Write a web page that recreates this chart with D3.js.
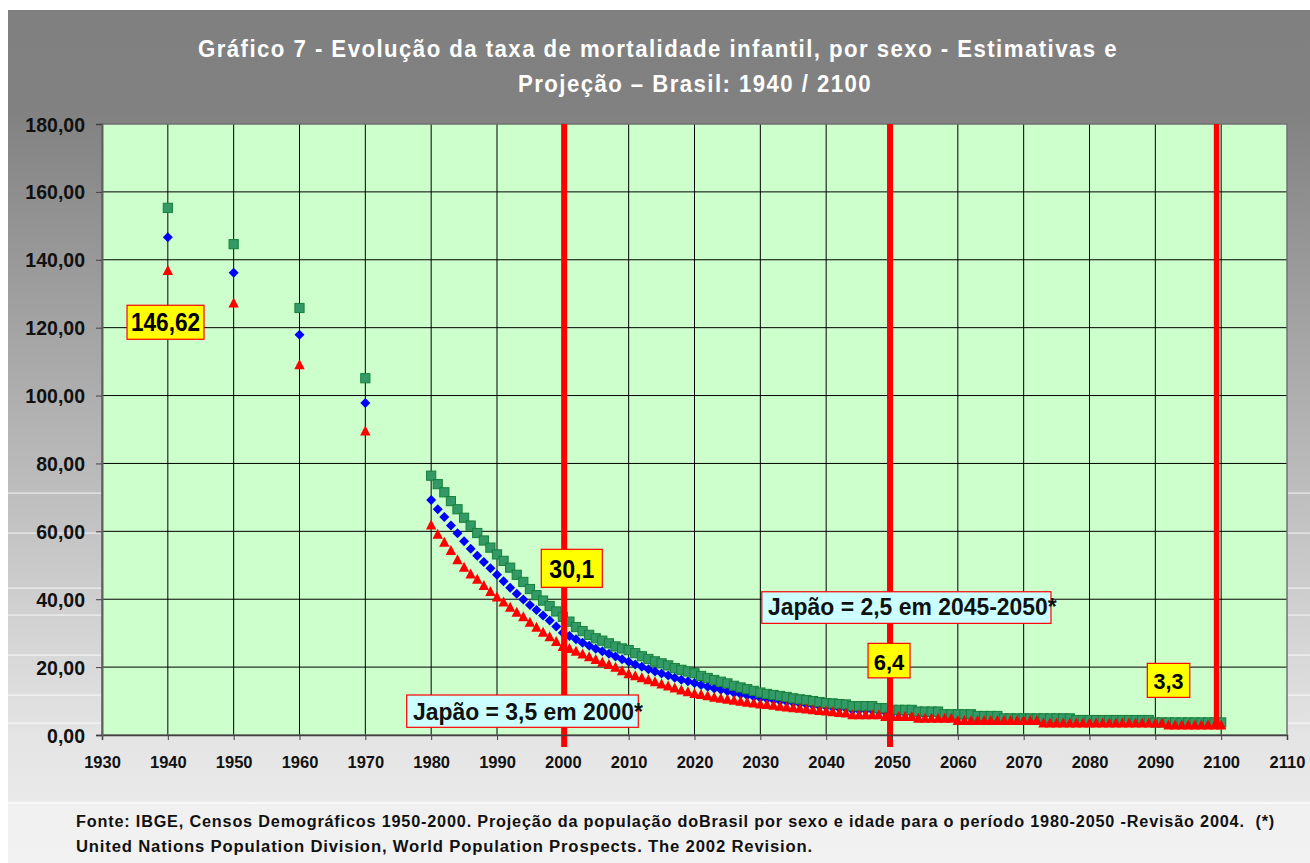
<!DOCTYPE html>
<html>
<head>
<meta charset="utf-8">
<script src="https://cdn.jsdelivr.net/npm/d3@7"></script>
<style>
  body { margin: 0; background: #fff; }
  text { font-family: "Liberation Sans", Arial, sans-serif; font-weight: bold; }
</style>
</head>
<body>
<div id="chart"></div>
<script>
// censos 1940-1970
var anosCenso = [1940, 1950, 1960, 1970];
var censoHomens = [155.3, 144.6, 125.8, 105.1];
var censoTotal = [146.62, 136.2, 117.9, 97.8];
var censoMulheres = [137.0, 127.4, 109.2, 89.7];

// estimativas e projecao anual 1980-2100
var anosProj = d3.range(1980, 2101);
var projHomens = [
  76.4, 73.9, 71.5, 68.9, 66.5, 64.0, 61.7, 59.5, 57.3, 55.2,
  53.2, 51.3, 49.3, 47.2, 45.1, 43.0, 41.2, 39.6, 38.0, 36.4,
  34.8, 33.4, 31.8, 30.6, 29.5, 28.5, 27.8, 27.0, 26.1, 25.5,
  25.0, 24.1, 23.2, 22.4, 21.7, 21.1, 20.5, 19.7, 19.2, 18.7,
  18.2, 17.4, 16.8, 16.2, 15.7, 15.2, 14.5, 14.0, 13.5, 13.0,
  12.5, 12.1, 11.8, 11.5, 11.2, 10.8, 10.5, 10.3, 10.0, 9.7,
  9.4, 9.3, 9.1, 9.0, 8.5, 8.5, 8.5, 8.5, 7.9, 7.9,
  7.4, 7.4, 7.4, 7.4, 6.9, 6.9, 6.9, 6.9, 6.1, 6.1,
  6.1, 6.1, 6.1, 5.6, 5.6, 5.6, 5.6, 4.9, 4.9, 4.9,
  4.9, 4.9, 4.9, 4.9, 4.9, 4.9, 4.9, 4.9, 4.4, 4.4,
  4.4, 4.4, 4.4, 4.4, 4.4, 4.4, 4.4, 4.4, 4.4, 4.4,
  3.7, 3.7, 3.7, 3.7, 3.7, 3.7, 3.7, 3.7, 3.7, 3.7,
  3.7
];
var projTotal = [
  69.2, 66.5, 64.2, 61.7, 59.4, 57.1, 54.9, 52.8, 51.0, 49.1,
  47.2, 45.3, 43.4, 41.6, 39.9, 38.3, 36.8, 35.2, 33.7, 32.0,
  30.1, 29.2, 28.2, 27.2, 26.3, 25.4, 24.7, 23.9, 23.1, 22.3,
  21.6, 20.8, 20.1, 19.4, 18.7, 18.1, 17.5, 16.9, 16.3, 15.8,
  15.3, 14.7, 14.2, 13.7, 13.3, 12.9, 12.4, 12.0, 11.6, 11.3,
  10.9, 10.6, 10.3, 10.0, 9.8, 9.5, 9.2, 9.0, 8.8, 8.5,
  8.3, 8.1, 7.9, 7.8, 7.3, 7.3, 7.3, 7.3, 6.9, 6.7,
  6.4, 6.4, 6.4, 6.4, 6.0, 6.0, 6.0, 6.0, 5.6, 5.6,
  5.3, 5.3, 5.3, 5.0, 5.0, 5.0, 5.0, 4.7, 4.7, 4.7,
  4.7, 4.7, 4.7, 4.3, 4.3, 4.3, 4.3, 4.3, 4.0, 4.0,
  4.0, 4.0, 4.0, 4.0, 4.0, 4.0, 4.0, 4.0, 4.0, 4.0,
  3.7, 3.7, 3.3, 3.3, 3.3, 3.3, 3.3, 3.3, 3.3, 3.3,
  3.3
];
var projMulheres = [
  62.0, 59.3, 56.9, 54.5, 51.8, 49.6, 47.6, 46.0, 44.2, 42.4,
  40.8, 39.3, 37.8, 36.3, 35.0, 33.4, 31.9, 30.4, 29.1, 27.7,
  26.2, 25.6, 24.8, 24.0, 23.2, 22.4, 21.6, 20.9, 20.1, 19.1,
  18.2, 17.6, 17.0, 16.4, 15.8, 15.2, 14.6, 14.0, 13.4, 12.9,
  12.4, 12.1, 11.7, 11.3, 11.0, 10.7, 10.4, 10.1, 9.8, 9.6,
  9.3, 9.1, 8.9, 8.6, 8.4, 8.2, 8.0, 7.8, 7.6, 7.4,
  7.2, 7.0, 6.8, 6.6, 6.1, 6.1, 6.1, 6.1, 6.1, 5.6,
  5.6, 5.6, 5.6, 5.6, 5.1, 5.1, 5.1, 5.1, 5.1, 5.1,
  4.4, 4.4, 4.4, 4.4, 4.4, 4.4, 4.4, 4.4, 4.4, 4.4,
  4.4, 4.4, 4.4, 3.7, 3.7, 3.7, 3.7, 3.7, 3.7, 3.7,
  3.7, 3.7, 3.7, 3.7, 3.7, 3.7, 3.7, 3.7, 3.7, 3.7,
  3.7, 3.7, 3.1, 3.1, 3.1, 3.1, 3.1, 3.1, 3.1, 3.1,
  3.1
];

var xTicks = d3.range(1930, 2111, 10);
var yTicks = d3.range(0, 181, 20);

// linhas verticais vermelhas (ano, valor inferior)
var linhasRef = [[2000.2, -3.5], [2049.7, -3.5], [2099.3, 2.0]];

var tituloLinhas = [
  "Gráfico 7 - Evolução da taxa de mortalidade infantil, por sexo - Estimativas e",
  "Projeção – Brasil: 1940 / 2100"
];
var fonteLinhas = [
  "Fonte: IBGE, Censos Demográficos 1950-2000. Projeção da população doBrasil por sexo e idade para o período 1980-2050 -Revisão 2004.  (*)",
  "United Nations Population Division, World Population Prospects. The 2002 Revision."
];

var width = 1310,
    height = 863;

var x = d3.scaleLinear().domain([1930, 2110]).range([102, 1287]);
var y = d3.scaleLinear().domain([0, 180]).range([735, 124]);

var svg = d3.select("#chart").append("svg")
    .attr("width", width)
    .attr("height", height);

// fundo cinza em degrade
var grad = svg.append("defs").append("linearGradient")
    .attr("id", "bg")
    .attr("gradientUnits", "userSpaceOnUse")
    .attr("x1", 0).attr("y1", 10).attr("x2", 0).attr("y2", 863);
grad.append("stop").attr("offset", 0).attr("stop-color", "#808080");
grad.append("stop").attr("offset", 0.117).attr("stop-color", "#818181");
grad.append("stop").attr("offset", 0.85).attr("stop-color", "#e4e4e4");
grad.append("stop").attr("offset", 0.926).attr("stop-color", "#e9e9e9");
grad.append("stop").attr("offset", 0.93).attr("stop-color", "#f0f0f0");
grad.append("stop").attr("offset", 1).attr("stop-color", "#f2f2f2");

svg.append("rect")
    .attr("x", 8).attr("y", 10)
    .attr("width", width - 8).attr("height", height - 10)
    .attr("fill", "url(#bg)");

// faixas brancas do degrade
[493, 533, 588, 615, 655, 695, 723, 803].forEach(function(b) {
  svg.append("rect")
    .attr("x", 8).attr("y", b - 0.5)
    .attr("width", width - 8).attr("height", 1.2)
    .attr("fill", "#fff")
    .attr("opacity", b == 803 ? 1 : 0.7);
});

// titulo
var tituloPos = [[198, 57, 920], [518, 92, 354]];
svg.selectAll(".titulo")
  .data(tituloLinhas)
  .enter().append("text")
  .attr("class", "titulo")
  .attr("x", function(d, i) { return tituloPos[i][0]; })
  .attr("y", function(d, i) { return tituloPos[i][1]; })
  .attr("textLength", function(d, i) { return tituloPos[i][2]; })
  .attr("lengthAdjust", "spacingAndGlyphs")
  .style("font-size", "23px")
  .style("letter-spacing", "1.5px")
  .style("fill", "#fff")
  .text(function(d) { return d; });

// area do grafico
svg.append("rect")
    .attr("x", x(1930)).attr("y", y(180))
    .attr("width", x(2110) - x(1930)).attr("height", y(0) - y(180))
    .attr("fill", "#ccffcc");

var grid = svg.append("g");
grid.selectAll(".vgrid")
  .data(xTicks.slice(1, -1))
  .enter().append("line")
  .attr("x1", function(d) { return x(d); })
  .attr("x2", function(d) { return x(d); })
  .attr("y1", y(180)).attr("y2", y(0))
  .style("stroke", "#000")
  .style("stroke-width", "1px");
grid.selectAll(".hgrid")
  .data(yTicks.slice(1, -1))
  .enter().append("line")
  .attr("x1", x(1930)).attr("x2", x(2110))
  .attr("y1", function(d) { return y(d); })
  .attr("y2", function(d) { return y(d); })
  .style("stroke", "#000")
  .style("stroke-width", "1px");

svg.append("rect")
    .attr("x", x(1930)).attr("y", y(180))
    .attr("width", x(2110) - x(1930)).attr("height", y(0) - y(180))
    .attr("fill", "none")
    .style("stroke", "#707070")
    .style("stroke-width", "1.5px");

// series
function serie(anos, vals) {
  return anos.map(function(a, i) { return [a, vals[i]]; });
}
var total = serie(anosCenso, censoTotal).concat(serie(anosProj, projTotal));
var homens = serie(anosCenso, censoHomens).concat(serie(anosProj, projHomens));
var mulheres = serie(anosCenso, censoMulheres).concat(serie(anosProj, projMulheres));

function diamante(d) {
  var cx = x(d[0]), cy = y(d[1]), r = 5;
  return "M" + cx + "," + (cy - r) + "L" + (cx + r) + "," + cy +
    "L" + cx + "," + (cy + r) + "L" + (cx - r) + "," + cy + "Z";
}
function triangulo(d) {
  var cx = x(d[0]), cy = y(d[1]), w = 5.2, h = 5;
  return "M" + cx + "," + (cy - h) + "L" + (cx + w) + "," + (cy + h) +
    "L" + (cx - w) + "," + (cy + h) + "Z";
}

svg.append("g").selectAll("path")
  .data(total)
  .enter().append("path")
  .attr("d", diamante)
  .attr("fill", "#0000ff");

svg.append("g").selectAll("rect")
  .data(homens)
  .enter().append("rect")
  .attr("x", function(d) { return x(d[0]) - 4.6; })
  .attr("y", function(d) { return y(d[1]) - 4.6; })
  .attr("width", 9.2).attr("height", 9.2)
  .attr("fill", "#339966")
  .style("stroke", "#16803a")
  .style("stroke-width", "1px");

svg.append("g").selectAll("path")
  .data(mulheres)
  .enter().append("path")
  .attr("d", triangulo)
  .attr("fill", "#ff0000");

// linhas vermelhas
svg.append("g").selectAll("line")
  .data(linhasRef)
  .enter().append("line")
  .attr("x1", function(d) { return x(d[0]); })
  .attr("x2", function(d) { return x(d[0]); })
  .attr("y1", y(180))
  .attr("y2", function(d) { return y(d[1]); })
  .style("stroke", "#ff0000")
  .style("stroke-width", function(d, i) { return i == 2 ? "5.5px" : "6px"; });

// eixos
var xAxis = svg.append("g")
    .attr("transform", "translate(0," + y(0) + ")")
    .call(d3.axisBottom(x).tickValues(xTicks).tickSize(5).tickPadding(16).tickFormat(d3.format("d")));
xAxis.select(".domain").style("stroke", "#404040").style("stroke-width", "1.5px");
xAxis.selectAll(".tick line").style("stroke", "#404040");
xAxis.selectAll("text")
  .style("font-size", "16.5px")
  .style("font-family", "'Liberation Sans', Arial, sans-serif")
  .style("font-weight", "bold")
  .attr("fill", "#111");

var yAxis = svg.append("g")
    .attr("transform", "translate(" + x(1930) + ",0)")
    .call(d3.axisLeft(y).tickValues(yTicks).tickSize(6).tickPadding(11)
      .tickFormat(function(d) { return d3.format(".2f")(d).replace(".", ","); }));
yAxis.select(".domain").style("stroke", "#606060").style("stroke-width", "2px");
yAxis.selectAll(".tick line").style("stroke", "#404040");
yAxis.selectAll("text")
  .style("font-size", "19.5px")
  .style("font-family", "'Liberation Sans', Arial, sans-serif")
  .style("font-weight", "bold")
  .attr("dy", "0.36em")
  .attr("fill", "#111");

// caixas de rotulo
var rotulos = [
  {t: "146,62", a: 1933.8, v: 126.6, w: 77, h: 34, fs: 25, tl: 69, dy: 8.4, fill: "#ffff00"},
  {t: "30,1", a: 1996.73, v: 54.7, w: 61, h: 38, fs: 25.5, tl: 45, dy: 10, fill: "#ffff00"},
  {t: "6,4", a: 2046.36, v: 27.0, w: 42, h: 34.5, fs: 22, tl: 30.6, dy: 9.5, fill: "#ffff00"},
  {t: "3,3", a: 2088.78, v: 21.1, w: 42.5, h: 34, fs: 22, tl: 30, dy: 9, fill: "#ffff00"}
];
var caixas = svg.append("g").selectAll("g")
  .data(rotulos)
  .enter().append("g");
caixas.append("rect")
  .attr("x", function(d) { return x(d.a); })
  .attr("y", function(d) { return y(d.v); })
  .attr("width", function(d) { return d.w; })
  .attr("height", function(d) { return d.h; })
  .attr("fill", function(d) { return d.fill; })
  .style("stroke", "#ff0000")
  .style("stroke-width", "1.2px");
caixas.append("text")
  .attr("x", function(d) { return x(d.a) + d.w / 2; })
  .attr("y", function(d) { return y(d.v) + d.h / 2 + d.dy; })
  .attr("text-anchor", "middle")
  .attr("textLength", function(d) { return d.tl; })
  .attr("lengthAdjust", "spacingAndGlyphs")
  .style("font-size", function(d) { return d.fs + "px"; })
  .style("fill", "#000")
  .text(function(d) { return d.t; });

var notas = [
  {t: "Japão = 3,5 em 2000*", a: 1976.28, v: 11.78, w: 231.6, h: 32.3, fs: 24, tl: 230, base: 25},
  {t: "Japão = 2,5 em 2045-2050*", a: 2030.22, v: 42.2, w: 289.2, h: 31.6, fs: 23, tl: 288.6, base: 23.3}
];
var notaG = svg.append("g").selectAll("g")
  .data(notas)
  .enter().append("g");
notaG.append("rect")
  .attr("x", function(d) { return x(d.a); })
  .attr("y", function(d) { return y(d.v); })
  .attr("width", function(d) { return d.w; })
  .attr("height", function(d) { return d.h; })
  .attr("fill", "#ccffff")
  .style("stroke", "#ff0000")
  .style("stroke-width", "1.2px");
notaG.append("text")
  .attr("x", function(d) { return x(d.a) + 6.3; })
  .attr("y", function(d) { return y(d.v) + d.base; })
  .attr("textLength", function(d) { return d.tl; })
  .attr("lengthAdjust", "spacingAndGlyphs")
  .style("font-size", function(d) { return d.fs + "px"; })
  .style("fill", "#111")
  .text(function(d) { return d.t; });

// fonte
var fontePos = [[76, 827, 1199], [76, 852, 737]];
svg.selectAll(".fonte")
  .data(fonteLinhas)
  .enter().append("text")
  .attr("class", "fonte")
  .attr("x", function(d, i) { return fontePos[i][0]; })
  .attr("y", function(d, i) { return fontePos[i][1]; })
  .attr("textLength", function(d, i) { return fontePos[i][2]; })
  .attr("lengthAdjust", "spacingAndGlyphs")
  .attr("xml:space", "preserve")
  .style("white-space", "pre")
  .style("font-size", "16px")
  .style("letter-spacing", "0.8px")
  .style("fill", "#111")
  .text(function(d) { return d; });
</script>
</body>
</html>
